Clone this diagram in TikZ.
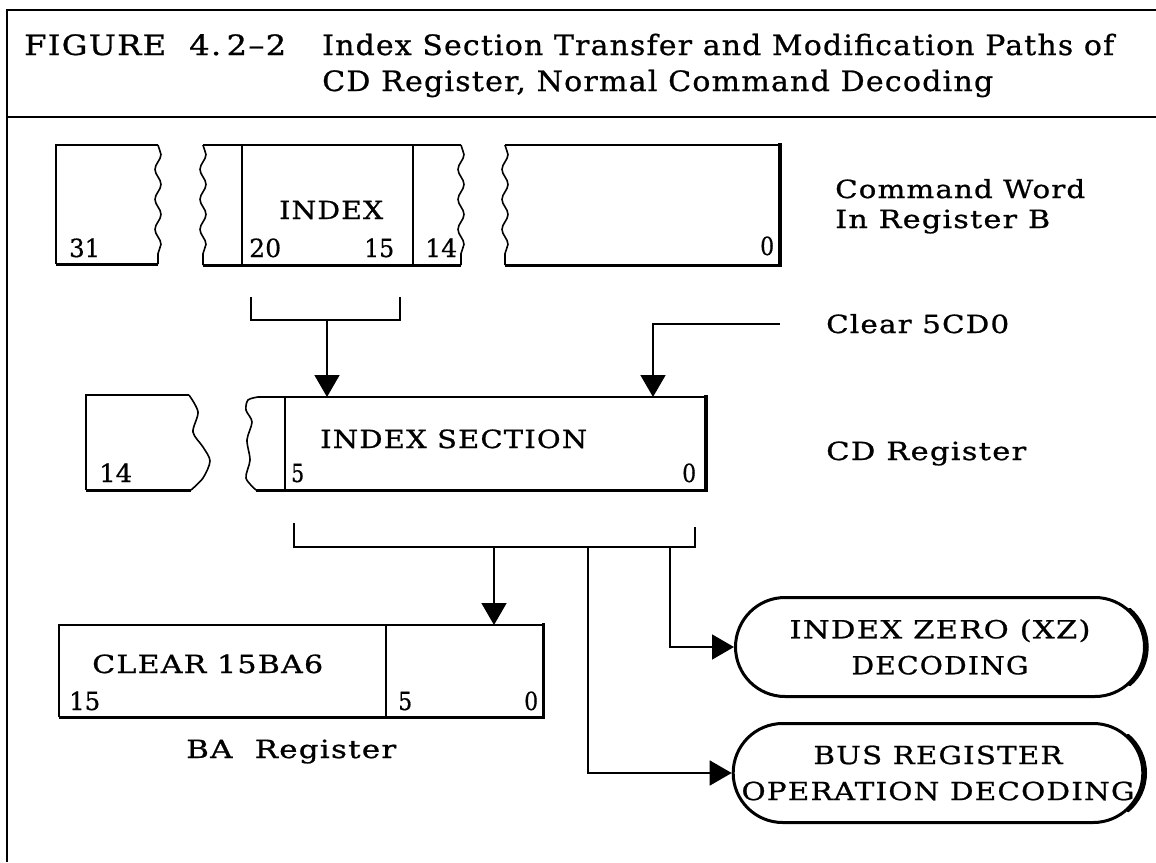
\documentclass[tikz,border=0pt]{standalone}
\usepackage{fontspec}
\setmainfont{DejaVu Serif}
\newfontfamily\bodyfont{DejaVu Serif}[LetterSpace=4.0,FakeBold=0.8]
\newfontfamily\numfont{DejaVu Serif}[FakeBold=0.5]
\usetikzlibrary{arrows.meta,decorations.pathmorphing,shapes.misc}

% set a text to a given width, keeping its height
\newcommand{\fitto}[2]{\resizebox{#1}{\height}{#2}}

\tikzset{
  framerule/.style={line width=2.4pt},
  thinrule/.style={line width=1.6pt},
  baserule/.style={line width=3pt},
  heavyrule/.style={line width=4pt},
  ragged/.style={thinrule, decorate,
    decoration={snake, amplitude=3pt, segment length=30pt}},
  txt/.style={anchor=base west, inner sep=0pt,
    font=\bodyfont\fontsize{25}{25}\selectfont},
  ttl/.style={anchor=base west, inner sep=0pt,
    font=\bodyfont\fontsize{28}{28}\selectfont},
  num/.style={anchor=base west, inner sep=0pt,
    font=\numfont\fontsize{25}{25}\selectfont},
  conn/.style={line width=1.6pt, -{Triangle[length=22pt,width=25pt]}},
  decoder/.style={rounded rectangle, draw, line width=3pt,
    minimum width=409pt, minimum height=99pt, inner sep=0pt,
    align=center, font=\bodyfont\fontsize{25}{36}\selectfont},
  rimline/.style={line width=3pt, line cap=round},
}

\begin{document}
\begin{tikzpicture}[x=1pt,y=-1pt]
\useasboundingbox (0,0) rectangle (1156,862);

% ---- frame and heading ----
\draw[framerule] (1156,10) -- (7,10) -- (7,862);
\draw[framerule] (7,117) -- (1156,117);
\node[ttl] (fig) at (24,55) {\fitto{262pt}{FIGURE\ \ 4.\,2–2}};
\node[ttl] (ttlA) at (322,55) {\fitto{792pt}{Index Section Transfer and Modification Paths of}};
\node[ttl] (ttlB) at (322,91) {\fitto{671pt}{CD Register,\ Normal Command Decoding}};

% ---- command word in register B ----
% bits 31..
\draw[thinrule] (158,145) -- (56,145) -- (56,264);
\draw[baserule] (56,264) -- (158,264);
\draw[ragged] (158,145) -- (158,264);
% bits ..21, 20..15, 14..
\draw[ragged] (203,145) -- (203,265);
\draw[thinrule] (203,145) -- (461,145);
\draw[thinrule] (242,145) -- (242,265);
\draw[thinrule] (413,145) -- (413,265);
\draw[ragged] (461,145) -- (461,265);
\draw[baserule] (203,265) -- (461,265);
% bits ..0
\draw[ragged] (505,145) -- (505,265);
\draw[thinrule] (505,145) -- (780,145);
\draw[heavyrule] (780,143) -- (780,267);
\draw[baserule] (505,265) -- (782,265);

\node[num] (b31) at (69,257) {\fitto{31pt}{31}};
\node[txt] (idx) at (279,219) {\fitto{104pt}{INDEX}};
\node[num] (b20) at (249,257) {\fitto{32pt}{20}};
\node[num] (b15) at (364,257) {\fitto{30pt}{15}};
\node[num] (b14) at (425,257) {\fitto{32pt}{14}};
\node[num] (b0) at (760,255) {\fitto{14pt}{0}};
\node[txt] (cw1) at (835,198) {\fitto{250pt}{Command Word}};
\node[txt] (cw2) at (835,228) {\fitto{215pt}{In Register B}};

% ---- bracket from the index field ----
\draw[thinrule] (251,297) -- (251,320) -- (400,320) -- (400,297);
\coordinate (idxout) at (327,320);
\coordinate (cdinA) at (327,397);
\draw[conn] (idxout) -- (cdinA);

% ---- clear signal ----
\node[txt] (clr) at (826,333) {\fitto{183pt}{Clear 5CD0}};
\coordinate (clrin) at (780,324);
\coordinate (cdinB) at (653,397);
\draw[conn] (clrin) -| (cdinB);

% ---- CD register ----
\draw[thinrule] (189,395) -- (86,395) -- (86,490);
\draw[baserule] (86,490) -- (191,490);
\draw[thinrule] plot[smooth] coordinates {(189,395) (198,412) (193,432) (203,447) (210,461) (203,478) (191,490)};
\draw[thinrule] plot[smooth] coordinates {(258,397) (248,400) (246,410) (252,422) (247,440) (250,460) (246,478) (256,490)};
\draw[thinrule] (258,397) -- (706,397);
\draw[thinrule] (285,397) -- (285,490);
\draw[heavyrule] (706,395) -- (706,492);
\draw[baserule] (256,490) -- (708,490);

\node[num] (c14) at (99,482) {\fitto{33pt}{14}};
\node[txt] (isec) at (320,448) {\fitto{267pt}{INDEX SECTION}};
\node[num] (c5) at (291,482) {\fitto{13pt}{5}};
\node[num] (c0) at (682,482) {\fitto{14pt}{0}};
\node[txt] (cdr) at (826,460) {\fitto{200pt}{CD Register}};

% ---- distribution from the index section ----
\draw[thinrule] (294,523) -- (294,547) -- (695,547) -- (695,527);
\coordinate (tapBA) at (494,547);
\coordinate (tapBus) at (588,547);
\coordinate (tapXZ) at (670,547);
\coordinate (bain) at (494,625);

% ---- BA register ----
\draw[thinrule] (543,625) -- (59,625) -- (59,717);
\draw[baserule] (59,717) -- (545,717);
\draw[baserule] (543,623) -- (543,718);
\draw[thinrule] (386,625) -- (386,717);
\node[txt] (baclr) at (92,673) {\fitto{231pt}{CLEAR 15BA6}};
\node[num] (a15) at (69,710) {\fitto{31pt}{15}};
\node[num] (a5) at (398,710) {\fitto{14pt}{5}};
\node[num] (a0) at (524,710) {\fitto{14pt}{0}};
\node[txt] (bar) at (186,758) {\fitto{210pt}{BA\ \ Register}};

% ---- decoders ----
\node[decoder] (xz) at (940,647) {\fitto{301pt}{INDEX ZERO (XZ)}\\\fitto{177pt}{DECODING}};
\node[decoder] (bus) at (938,773) {\fitto{249pt}{BUS REGISTER}\\\fitto{393pt}{OPERATION DECODING}};
% heavier right-hand rims of the decoders
\draw[rimline] ([xshift=1.2pt]xz.east) arc[start angle=0, end angle=50, radius=49.5pt];
\draw[rimline] ([xshift=1.2pt]xz.east) arc[start angle=0, end angle=-50, radius=49.5pt];
\draw[rimline] ([xshift=1.2pt]bus.east) arc[start angle=0, end angle=50, radius=49.5pt];
\draw[rimline] ([xshift=1.2pt]bus.east) arc[start angle=0, end angle=-50, radius=49.5pt];

\draw[conn] (tapBA) -- (bain);
\draw[conn] (tapXZ) |- (xz.west);
\draw[conn] (tapBus) |- (bus.west);
\end{tikzpicture}
\end{document}
